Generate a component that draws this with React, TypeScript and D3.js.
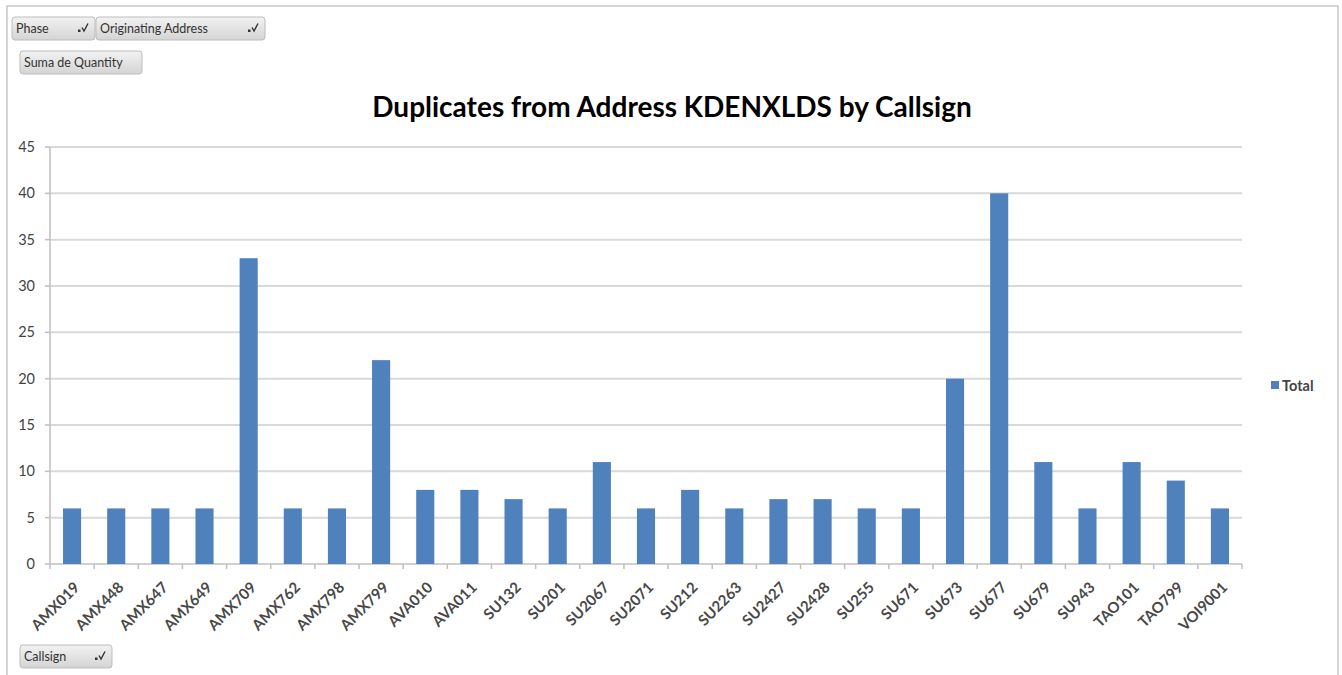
import React from "react";
import * as d3 from "d3";

const categories = ["AMX019","AMX448","AMX647","AMX649","AMX709","AMX762","AMX798","AMX799","AVA010","AVA011","SU132","SU201","SU2067","SU2071","SU212","SU2263","SU2427","SU2428","SU255","SU671","SU673","SU677","SU679","SU943","TAO101","TAO799","VOI9001"];
const totals = [6,6,6,6,33,6,6,22,8,8,7,6,11,6,8,6,7,7,6,6,20,40,11,6,11,9,6];
const yTicks = [0,5,10,15,20,25,30,35,40,45];
const title = "Duplicates from Address KDENXLDS by Callsign";
const seriesName = "Total";
const filterButtons = ["Phase", "Originating Address"];
const valueButton = "Suma de Quantity";
const axisButton = "Callsign";

const W = 1342, H = 675;
const left = 50, right = 1242, top = 147, bottom = 564;
const font = "Lato, 'Open Sans', sans-serif";

function FilterIcon({ x, y }: { x: number; y: number }) {
  return (
    <g transform={`translate(${x},${y})`}>
      <rect x={0} y={5} width={2.5} height={2.5} fill="#333" />
      <path d="M4,3 L6,6.5 L10,-1" fill="none" stroke="#333" strokeWidth={1.4} />
    </g>
  );
}

function Button({ x, y, w, h, label, icon }: { x: number; y: number; w: number; h: number; label: string; icon?: boolean }) {
  return (
    <g>
      <rect x={x} y={y} width={w} height={h} rx={3} fill="url(#btnGrad)" stroke="#bdbdbd" />
      <text x={x + 4} y={y + h / 2 + 4.5} fontSize={12.5} fontFamily={font} fill="#333">{label}</text>
      {icon && <FilterIcon x={x + w - 17} y={y + h / 2 - 4} />}
    </g>
  );
}

export default function App() {
  const x = d3.scaleBand<string>().domain(categories).range([left, right]).paddingInner(0.59).paddingOuter(0.295);
  const xb = d3.scaleBand<string>().domain(categories).range([left, right]);
  const y = d3.scaleLinear().domain([0, 45]).range([bottom, top]);
  const step = xb.step();

  return (
    <svg width={W} height={H} style={{ position: "absolute", left: 0, top: 0, background: "#fff" }}>
      <defs>
        <linearGradient id="btnGrad" x1="0" y1="0" x2="0" y2="1">
          <stop offset="0" stopColor="#f2f2f2" />
          <stop offset="1" stopColor="#d4d4d4" />
        </linearGradient>
      </defs>
      <rect x={0} y={0} width={W} height={H} fill="#fff" />
      <rect x={7} y={6} width={1331} height={700} fill="none" stroke="#c8c8c8" strokeWidth={1.5} />

      <Button x={12} y={17} w={83} h={23} label={filterButtons[0]} icon />
      <Button x={96} y={17} w={169} h={23} label={filterButtons[1]} icon />
      <Button x={20} y={51} w={122} h={23} label={valueButton} />
      <Button x={20} y={645} w={92} h={23} label={axisButton} icon />

      <text x={672} y={117} textAnchor="middle" fontSize={28} fontWeight="bold" fontFamily={font} fill="#000">{title}</text>

      {yTicks.map((t) => (
        <g key={t}>
          {t > 0 && <line x1={left} x2={right} y1={y(t)} y2={y(t)} stroke="#d9d9d9" strokeWidth={2} />}
          <line x1={left - 5} x2={left} y1={y(t)} y2={y(t)} stroke="#bfbfbf" strokeWidth={1.5} />
          <text x={35} y={y(t) + 5} textAnchor="end" fontSize={14.5} fontFamily={font} fill="#444">{t}</text>
        </g>
      ))}
      <line x1={left} x2={left} y1={top} y2={bottom} stroke="#bfbfbf" strokeWidth={1.5} />
      <line x1={left} x2={right} y1={bottom} y2={bottom} stroke="#bfbfbf" strokeWidth={1.5} />
      {d3.range(categories.length + 1).map((i) => (
        <line key={i} x1={left + i * step} x2={left + i * step} y1={bottom} y2={bottom + 5} stroke="#bfbfbf" strokeWidth={1.5} />
      ))}

      {categories.map((c, i) => (
        <rect key={c} x={x(c)} y={y(totals[i])} width={x.bandwidth()} height={bottom - y(totals[i])} fill="#4f81bd" />
      ))}

      {categories.map((c) => {
        const cx = (xb(c) as number) + step / 2 + 1;
        const cy = bottom + 17;
        return (
          <text key={c} transform={`translate(${cx},${cy}) rotate(-45)`} textAnchor="end" dy="0.7em" fontSize={15} fontWeight="bold" fontFamily={font} fill="#484848">{c}</text>
        );
      })}

      <rect x={1271} y={381} width={8} height={8} fill="#4f81bd" />
      <text x={1282} y={390.5} fontSize={14.5} fontFamily={font} fontWeight="bold" fill="#444">{seriesName}</text>
    </svg>
  );
}
